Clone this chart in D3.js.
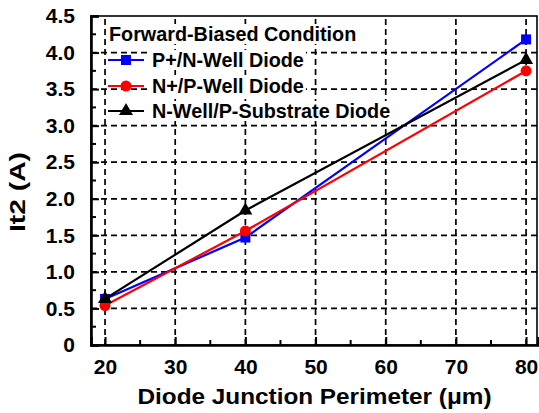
<!DOCTYPE html>
<meta charset="utf-8">
<script src="https://d3js.org/d3.v7.min.js"></script>
<style>
  body { margin: 0; background: #fff; }
  text { font-family: "Liberation Sans", Arial, sans-serif; font-weight: bold; fill: #000; }
</style>
<div id="chart"></div>
<script>

// data
var perimeter = [20, 40, 80];
var pnWell = [0.63, 1.47, 4.18];
var npWell = [0.54, 1.56, 3.75];
var nwSub = [0.63, 1.84, 3.90];

var xTicks = [20, 30, 40, 50, 60, 70, 80];
var xMinor = [25, 35, 45, 55, 65, 75];
var yTicks = [0, 0.5, 1.0, 1.5, 2.0, 2.5, 3.0, 3.5, 4.0, 4.5];
var yTickLabels = ["0", "0.5", "1.0", "1.5", "2.0", "2.5", "3.0", "3.5", "4.0", "4.5"];
var yMinor = [0.25, 0.75, 1.25, 1.75, 2.25, 2.75, 3.25, 3.75, 4.25];

var legendTitle = "Forward-Biased Condition";
var seriesNames = ["P+/N-Well Diode", "N+/P-Well Diode", "N-Well/P-Substrate Diode"];

var W = 539, H = 413;
var margin = {top: 16, right: 1, bottom: 68, left: 91};

var svg = d3.select("#chart").append("svg")
    .attr("width", W)
    .attr("height", H);

var x = d3.scaleLinear()
    .domain([18, 81.7])
    .range([margin.left, W - margin.right]);

var y = d3.scaleLinear()
    .domain([0, 4.5])
    .range([H - margin.bottom, margin.top]);

var x0 = x.range()[0], x1 = x.range()[1];
var y0 = y.range()[0], y1 = y.range()[1];

// dashed grid
var grid = svg.append("g")
    .attr("stroke", "#000")
    .attr("stroke-width", 1.7)
    .attr("stroke-dasharray", "6,4");

grid.selectAll("line.v")
    .data(xTicks)
    .enter().append("line")
    .attr("class", "v")
    .attr("x1", function(d) { return x(d); })
    .attr("x2", function(d) { return x(d); })
    .attr("y1", y0)
    .attr("y2", y1);

grid.selectAll("line.h")
    .data(yTicks.filter(function(d) { return d > 0 && d < 4.5; }))
    .enter().append("line")
    .attr("class", "h")
    .attr("x1", x0)
    .attr("x2", x1)
    .attr("y1", function(d) { return y(d); })
    .attr("y2", function(d) { return y(d); });

// legend texts with white boxes behind them
var legend = svg.append("g");
var legendRows = [
  {label: legendTitle, tx: 109, ty: 41, line: null},
  {label: seriesNames[0], tx: 152, ty: 67, line: {color: "#0000ff", shape: "square", cy: 60}},
  {label: seriesNames[1], tx: 152, ty: 93, line: {color: "#ff0000", shape: "circle", cy: 86}},
  {label: seriesNames[2], tx: 152, ty: 118, line: {color: "#000000", shape: "triangle", cy: 111}}
];

legendRows.forEach(function(r) {
  var bg = legend.append("rect").attr("fill", "#fff");
  var t = legend.append("text")
      .attr("x", r.tx)
      .attr("y", r.ty)
      .style("font-size", "19.8px")
      .text(r.label);
  var b = t.node().getBBox();
  bg.attr("x", b.x - 2).attr("y", b.y + 1)
    .attr("width", b.width + 4).attr("height", b.height - 2);
});

// series
var series = [
  {values: pnWell, color: "#0000ff", shape: "square"},
  {values: npWell, color: "#ff0000", shape: "circle"},
  {values: nwSub, color: "#000000", shape: "triangle"}
];

var line = d3.line()
    .x(function(d) { return x(d[0]); })
    .y(function(d) { return y(d[1]); });

function marker(g, shape, color, cx, cy) {
  if (shape === "square") {
    g.append("rect").attr("x", cx - 5).attr("y", cy - 5)
      .attr("width", 10).attr("height", 10).attr("fill", color);
  } else if (shape === "circle") {
    g.append("circle").attr("cx", cx).attr("cy", cy).attr("r", 5.5).attr("fill", color);
  } else {
    g.append("path")
      .attr("d", d3.symbol().type(d3.symbolTriangle).size(85)())
      .attr("transform", "translate(" + cx + "," + cy + ")")
      .attr("fill", color);
  }
}

series.forEach(function(s) {
  var pts = perimeter.map(function(p, i) { return [p, s.values[i]]; });
  svg.append("path")
      .attr("d", line(pts))
      .attr("fill", "none")
      .attr("stroke", s.color)
      .attr("stroke-width", 2.2);
  var g = svg.append("g");
  pts.forEach(function(p) { marker(g, s.shape, s.color, x(p[0]), y(p[1])); });
});

// legend samples
legendRows.forEach(function(r) {
  if (!r.line) return;
  legend.append("line")
    .attr("x1", 108).attr("x2", 144)
    .attr("y1", r.line.cy).attr("y2", r.line.cy)
    .attr("stroke", r.line.color).attr("stroke-width", 2.2);
  marker(legend, r.line.shape, r.line.color, 126, r.line.cy);
});

// frame
svg.append("rect")
    .attr("x", x0).attr("y", y1)
    .attr("width", x1 - x0 - 1).attr("height", y0 - y1)
    .attr("fill", "none")
    .attr("stroke", "#000")
    .attr("stroke-width", 1.6);

// axes with inward ticks
var xAxis = svg.append("g")
    .attr("transform", "translate(0," + y0 + ")")
    .call(d3.axisBottom(x).tickValues(xTicks).tickSize(-8).tickPadding(14));
xAxis.select(".domain").attr("stroke-width", 2.6);
xAxis.selectAll(".tick line").attr("stroke-width", 2);
xAxis.selectAll("text").style("font-size", "21px");

xAxis.selectAll("line.minor")
    .data(xMinor)
    .enter().append("line")
    .attr("class", "minor")
    .attr("x1", function(d) { return x(d); })
    .attr("x2", function(d) { return x(d); })
    .attr("y1", 0).attr("y2", -5)
    .attr("stroke", "#000").attr("stroke-width", 2);

var yAxis = svg.append("g")
    .attr("transform", "translate(" + x0 + ",0)")
    .call(d3.axisLeft(y).tickValues(yTicks)
        .tickFormat(function(d, i) { return yTickLabels[i]; })
        .tickSize(-8).tickPadding(16));
yAxis.select(".domain").attr("stroke-width", 2.6);
yAxis.selectAll(".tick line").attr("stroke-width", 2);
yAxis.selectAll("text").style("font-size", "21px");

yAxis.selectAll("line.minor")
    .data(yMinor)
    .enter().append("line")
    .attr("class", "minor")
    .attr("x1", 0).attr("x2", 5)
    .attr("y1", function(d) { return y(d); })
    .attr("y2", function(d) { return y(d); })
    .attr("stroke", "#000").attr("stroke-width", 2);

// axis titles
svg.append("text")
    .attr("x", (x0 + x1) / 2)
    .attr("y", 404)
    .attr("text-anchor", "middle")
    .attr("textLength", 354)
    .attr("lengthAdjust", "spacingAndGlyphs")
    .style("font-size", "22px")
    .text("Diode Junction Perimeter (\u03bcm)");

svg.append("text")
    .attr("transform", "translate(25,192) rotate(-90)")
    .attr("text-anchor", "middle")
    .attr("textLength", 80)
    .attr("lengthAdjust", "spacingAndGlyphs")
    .style("font-size", "22px")
    .text("It2 (A)");

</script>
